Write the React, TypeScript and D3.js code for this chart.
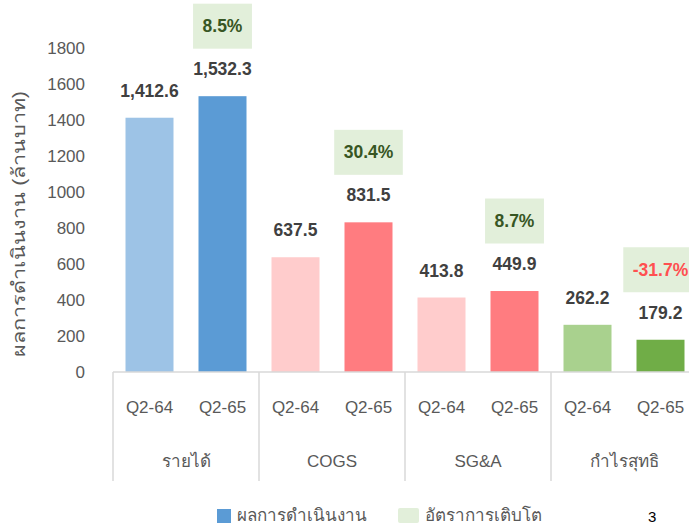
import React from "react";
import * as d3 from "d3";

const categories = ["รายได้", "COGS", "SG&A", "กำไรสุทธิ"];
const periods = ["Q2-64", "Q2-65"];
const valuesQ264 = [1412.6, 637.5, 413.8, 262.2];
const valuesQ265 = [1532.3, 831.5, 449.9, 179.2];
const growthPct = [8.5, 30.4, 8.7, -31.7];
const yTicks = [0, 200, 400, 600, 800, 1000, 1200, 1400, 1600, 1800];
const colorsQ264 = ["#9dc3e6", "#ffcccc", "#ffcccc", "#a9d18e"];
const colorsQ265 = ["#5b9bd5", "#ff7c80", "#ff7c80", "#70ad47"];
const legendLabels = ["ผลการดำเนินงาน", "อัตราการเติบโต"];
const yTitle = "ผลการดำเนินงาน (ล้านบาท)";
const pageNumber = "3";

const FONT = "'Liberation Sans', Arial, 'Noto Sans', sans-serif";

export default function App() {
  const W = 689, H = 526;
  const x0 = 113, x1 = 697, yBase = 372, yTop = 48;
  const y = d3.scaleLinear().domain([0, 1800]).range([yBase, yTop]);
  const keys: string[] = [];
  categories.forEach((c, i) => periods.forEach((p) => keys.push(`${i}|${p}`)));
  const x = d3.scaleBand<string>().domain(keys).range([x0, x1]).paddingInner(0.3425).paddingOuter(0.17125);
  const groupX = d3.scaleBand<string>().domain(categories).range([x0, x1]);
  const fmt = d3.format(",.1f");

  const bars: { key: string; v: number; color: string }[] = [];
  categories.forEach((c, i) => {
    bars.push({ key: `${i}|${periods[0]}`, v: valuesQ264[i], color: colorsQ264[i] });
    bars.push({ key: `${i}|${periods[1]}`, v: valuesQ265[i], color: colorsQ265[i] });
  });

  const charW = (s: string) => {
    let w = 0;
    for (const ch of s) {
      if (ch === "%") w += 0.889;
      else if (ch === "." || ch === ",") w += 0.278;
      else if (ch === "-") w += 0.333;
      else w += 0.556;
    }
    return w;
  };

  return (
    <svg width={W} height={H} style={{ position: "absolute", left: 0, top: 0, background: "#fff" }} fontFamily={FONT}>
      {/* y ticks */}
      {yTicks.map((t) => (
        <text key={t} x={85} y={y(t)} dy="0.35em" textAnchor="end" fontSize={17} fill="#595959">
          {t}
        </text>
      ))}
      <text
        transform={`translate(25,224) rotate(-90) scale(1.2,1)`}
        textAnchor="middle"
        fontSize={18}
        fill="#595959"
      >
        {yTitle}
      </text>

      {/* bars */}
      {bars.map((b) => (
        <g key={b.key}>
          <rect x={x(b.key)} y={y(b.v)} width={x.bandwidth()} height={yBase - y(b.v)} fill={b.color} />
          <text
            x={(x(b.key) as number) + x.bandwidth() / 2}
            y={y(b.v) - 27}
            dy="0.35em"
            textAnchor="middle"
            fontSize={17.5}
            fontWeight="bold"
            fill="#404040"
          >
            {fmt(b.v)}
          </text>
        </g>
      ))}

      {/* growth boxes */}
      {categories.map((c, i) => {
        const key = `${i}|${periods[1]}`;
        const cx = (x(key) as number) + x.bandwidth() / 2;
        const cy = y(valuesQ265[i]) - 70;
        const label = `${growthPct[i].toFixed(1)}%`;
        const fs = 17.5;
        const bw = charW(label) * fs + 19;
        const bh = 45;
        return (
          <g key={c}>
            <rect x={cx - bw / 2} y={cy - bh / 2} width={bw} height={bh} fill="#e2efda" />
            <text
              x={cx}
              y={cy}
              dy="0.35em"
              textAnchor="middle"
              fontSize={fs}
              fontWeight="bold"
              fill={growthPct[i] < 0 ? "#ff5050" : "#375623"}
            >
              {label}
            </text>
          </g>
        );
      })}

      {/* x axis */}
      <line x1={x0} x2={x1} y1={yBase} y2={yBase} stroke="#d9d9d9" strokeWidth={1.5} />
      {[...categories.map((c) => groupX(c) as number), x1].map((gx, i) => (
        <line key={i} x1={gx} x2={gx} y1={yBase} y2={481} stroke="#d9d9d9" strokeWidth={1.5} />
      ))}
      {keys.map((k) => (
        <text
          key={k}
          x={(x(k) as number) + x.bandwidth() / 2}
          y={407}
          dy="0.35em"
          textAnchor="middle"
          fontSize={17}
          fill="#595959"
        >
          {k.split("|")[1]}
        </text>
      ))}
      {categories.map((c) => (
        <text
          key={c}
          x={(groupX(c) as number) + groupX.bandwidth() / 2}
          y={461}
          dy="0.35em"
          textAnchor="middle"
          fontSize={17}
          fill="#595959"
        >
          {c}
        </text>
      ))}

      {/* legend */}
      <rect x={217} y={509} width={14} height={14} fill="#5b9bd5" />
      <text x={237} y={521} fontSize={17} fill="#595959">
        {legendLabels[0]}
      </text>
      <rect x={398} y={508} width={21} height={15} rx={2} fill="#e2efda" />
      <text x={425} y={521} fontSize={17} fill="#595959">
        {legendLabels[1]}
      </text>
      <text x={648} y={522} fontSize={15} fill="#000">
        {pageNumber}
      </text>
    </svg>
  );
}
